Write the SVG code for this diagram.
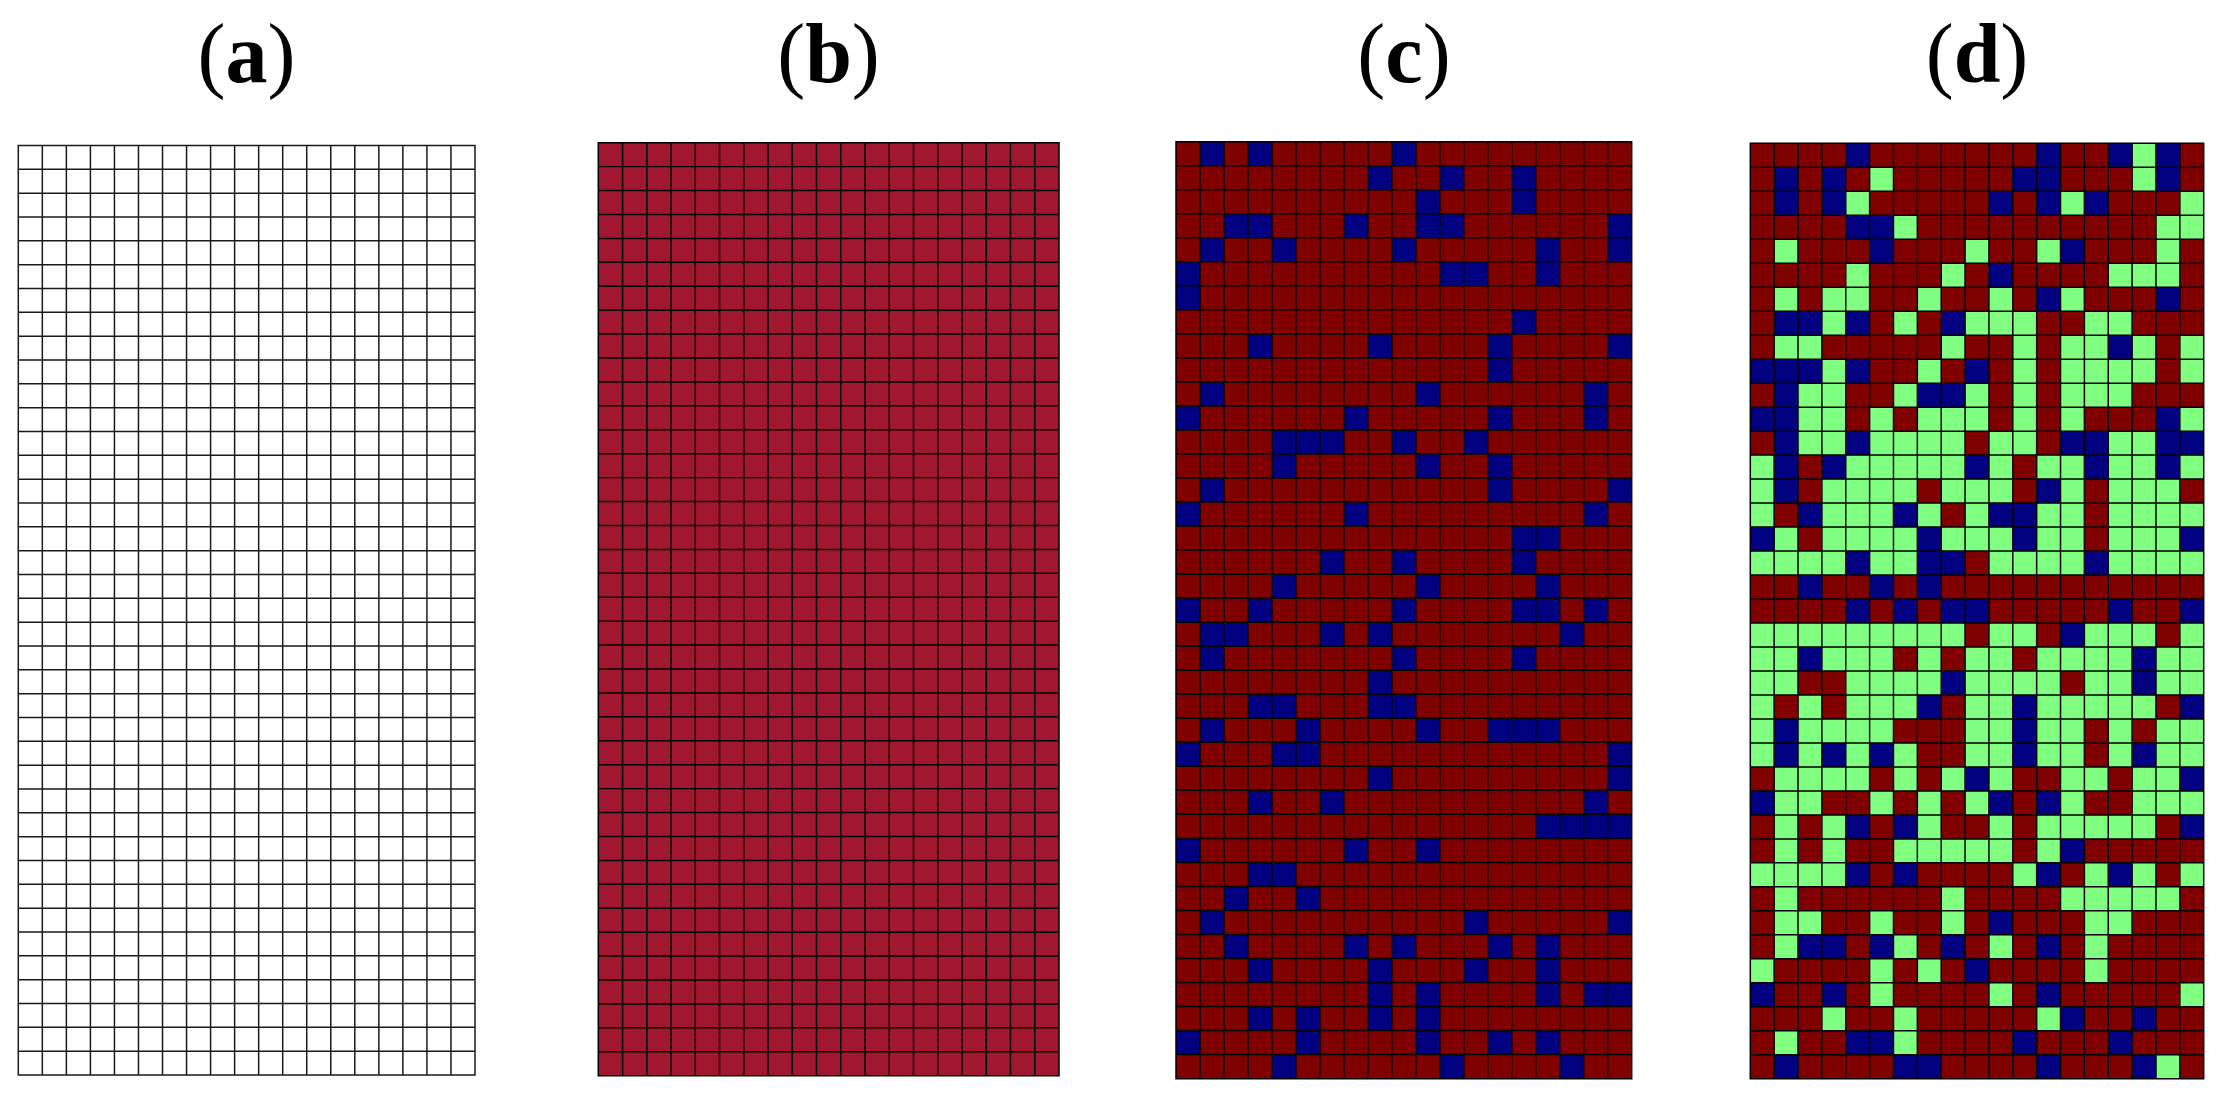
<svg xmlns="http://www.w3.org/2000/svg" xmlns:xlink="http://www.w3.org/1999/xlink" width="2219" height="1095" viewBox="0 0 2219 1095">
<style>
.t{font-family:"Liberation Serif","Times New Roman",serif;font-size:84px;text-anchor:middle;fill:#000}
.r{fill:#800000}.b{fill:#000080}.g{fill:#80ff80}.w{fill:#fff}.cr{fill:#a0172f}
.grid{fill:none;stroke:#000;stroke-width:1.5;stroke-linecap:square;vector-effect:non-scaling-stroke}
.ga{stroke:#1a1a1a}
</style>
<defs>
<path id="grid" d="M0 0V936M24 0V936M48 0V936M72 0V936M96 0V936M120 0V936M144 0V936M168 0V936M192 0V936M216 0V936M240 0V936M264 0V936M288 0V936M312 0V936M336 0V936M360 0V936M384 0V936M408 0V936M432 0V936M456 0V936M0 0H456M0 24H456M0 48H456M0 72H456M0 96H456M0 120H456M0 144H456M0 168H456M0 192H456M0 216H456M0 240H456M0 264H456M0 288H456M0 312H456M0 336H456M0 360H456M0 384H456M0 408H456M0 432H456M0 456H456M0 480H456M0 504H456M0 528H456M0 552H456M0 576H456M0 600H456M0 624H456M0 648H456M0 672H456M0 696H456M0 720H456M0 744H456M0 768H456M0 792H456M0 816H456M0 840H456M0 864H456M0 888H456M0 912H456M0 936H456"/>
</defs>
<rect width="2219" height="1095" fill="#fff"/>

<g id="label-a"><text class="t" x="246.5" y="82">(<tspan font-weight="bold">a</tspan>)</text></g>
<g id="label-b"><text class="t" x="828.5" y="82">(<tspan font-weight="bold">b</tspan>)</text></g>
<g id="label-c"><text class="t" x="1404" y="82">(<tspan font-weight="bold">c</tspan>)</text></g>
<g id="label-d"><text class="t" x="1977" y="82">(<tspan font-weight="bold">d</tspan>)</text></g>

<g id="panel-a" transform="translate(18.3,145.5) scale(1.0015,0.99306)">
<rect class="w" width="456" height="936"/>
<use href="#grid" class="grid ga"/>
</g>

<g id="panel-b" transform="translate(598.3,142.7) scale(1.0103,0.9968)">
<rect class="cr" width="456" height="936"/>
<use href="#grid" class="grid"/>
</g>

<g id="panel-c" transform="translate(1176,141.7) scale(0.9993,1.001)">
<rect class="r" width="456" height="936"/>
<g class="b">
<rect x="24" y="0" width="24" height="24"/><rect x="72" y="0" width="24" height="24"/><rect x="216" y="0" width="24" height="24"/>
<rect x="192" y="24" width="24" height="24"/><rect x="264" y="24" width="24" height="24"/><rect x="336" y="24" width="24" height="24"/>
<rect x="240" y="48" width="24" height="24"/><rect x="336" y="48" width="24" height="24"/>
<rect x="48" y="72" width="48" height="24"/><rect x="168" y="72" width="24" height="24"/><rect x="240" y="72" width="48" height="24"/><rect x="432" y="72" width="24" height="24"/>
<rect x="24" y="96" width="24" height="24"/><rect x="96" y="96" width="24" height="24"/><rect x="216" y="96" width="24" height="24"/><rect x="360" y="96" width="24" height="24"/><rect x="432" y="96" width="24" height="24"/>
<rect x="0" y="120" width="24" height="24"/><rect x="264" y="120" width="48" height="24"/><rect x="360" y="120" width="24" height="24"/>
<rect x="0" y="144" width="24" height="24"/>
<rect x="336" y="168" width="24" height="24"/>
<rect x="72" y="192" width="24" height="24"/><rect x="192" y="192" width="24" height="24"/><rect x="312" y="192" width="24" height="24"/><rect x="432" y="192" width="24" height="24"/>
<rect x="312" y="216" width="24" height="24"/>
<rect x="24" y="240" width="24" height="24"/><rect x="240" y="240" width="24" height="24"/><rect x="408" y="240" width="24" height="24"/>
<rect x="0" y="264" width="24" height="24"/><rect x="168" y="264" width="24" height="24"/><rect x="312" y="264" width="24" height="24"/><rect x="408" y="264" width="24" height="24"/>
<rect x="96" y="288" width="72" height="24"/><rect x="216" y="288" width="24" height="24"/><rect x="288" y="288" width="24" height="24"/>
<rect x="96" y="312" width="24" height="24"/><rect x="240" y="312" width="24" height="24"/><rect x="312" y="312" width="24" height="24"/>
<rect x="24" y="336" width="24" height="24"/><rect x="312" y="336" width="24" height="24"/><rect x="432" y="336" width="24" height="24"/>
<rect x="0" y="360" width="24" height="24"/><rect x="168" y="360" width="24" height="24"/><rect x="408" y="360" width="24" height="24"/>
<rect x="336" y="384" width="48" height="24"/>
<rect x="144" y="408" width="24" height="24"/><rect x="216" y="408" width="24" height="24"/><rect x="336" y="408" width="24" height="24"/>
<rect x="96" y="432" width="24" height="24"/><rect x="240" y="432" width="24" height="24"/><rect x="360" y="432" width="24" height="24"/>
<rect x="0" y="456" width="24" height="24"/><rect x="72" y="456" width="24" height="24"/><rect x="216" y="456" width="24" height="24"/><rect x="336" y="456" width="48" height="24"/><rect x="408" y="456" width="24" height="24"/>
<rect x="24" y="480" width="48" height="24"/><rect x="144" y="480" width="24" height="24"/><rect x="192" y="480" width="24" height="24"/><rect x="384" y="480" width="24" height="24"/>
<rect x="24" y="504" width="24" height="24"/><rect x="216" y="504" width="24" height="24"/><rect x="336" y="504" width="24" height="24"/>
<rect x="192" y="528" width="24" height="24"/>
<rect x="72" y="552" width="48" height="24"/><rect x="192" y="552" width="48" height="24"/>
<rect x="24" y="576" width="24" height="24"/><rect x="120" y="576" width="24" height="24"/><rect x="240" y="576" width="24" height="24"/><rect x="312" y="576" width="72" height="24"/>
<rect x="0" y="600" width="24" height="24"/><rect x="96" y="600" width="48" height="24"/><rect x="432" y="600" width="24" height="24"/>
<rect x="192" y="624" width="24" height="24"/><rect x="432" y="624" width="24" height="24"/>
<rect x="72" y="648" width="24" height="24"/><rect x="144" y="648" width="24" height="24"/><rect x="408" y="648" width="24" height="24"/>
<rect x="360" y="672" width="96" height="24"/>
<rect x="0" y="696" width="24" height="24"/><rect x="168" y="696" width="24" height="24"/><rect x="240" y="696" width="24" height="24"/>
<rect x="72" y="720" width="48" height="24"/>
<rect x="48" y="744" width="24" height="24"/><rect x="120" y="744" width="24" height="24"/>
<rect x="24" y="768" width="24" height="24"/><rect x="288" y="768" width="24" height="24"/><rect x="432" y="768" width="24" height="24"/>
<rect x="48" y="792" width="24" height="24"/><rect x="168" y="792" width="24" height="24"/><rect x="216" y="792" width="24" height="24"/><rect x="312" y="792" width="24" height="24"/><rect x="360" y="792" width="24" height="24"/>
<rect x="72" y="816" width="24" height="24"/><rect x="192" y="816" width="24" height="24"/><rect x="288" y="816" width="24" height="24"/><rect x="360" y="816" width="24" height="24"/>
<rect x="192" y="840" width="24" height="24"/><rect x="240" y="840" width="24" height="24"/><rect x="360" y="840" width="24" height="24"/><rect x="408" y="840" width="48" height="24"/>
<rect x="72" y="864" width="24" height="24"/><rect x="120" y="864" width="24" height="24"/><rect x="192" y="864" width="24" height="24"/><rect x="240" y="864" width="24" height="24"/>
<rect x="0" y="888" width="24" height="24"/><rect x="120" y="888" width="24" height="24"/><rect x="240" y="888" width="24" height="24"/><rect x="312" y="888" width="24" height="24"/><rect x="360" y="888" width="24" height="24"/>
<rect x="96" y="912" width="24" height="24"/><rect x="264" y="912" width="24" height="24"/><rect x="384" y="912" width="24" height="24"/>
</g>
<use href="#grid" class="grid"/>
</g>

<g id="panel-d" transform="translate(1750.3,143.3) scale(0.9943,0.9994)">
<rect class="r" width="456" height="936"/>
<g class="b">
<rect x="96" y="0" width="24" height="24"/><rect x="288" y="0" width="24" height="24"/><rect x="360" y="0" width="24" height="24"/><rect x="408" y="0" width="24" height="24"/>
<rect x="24" y="24" width="24" height="24"/><rect x="72" y="24" width="24" height="24"/><rect x="264" y="24" width="48" height="24"/><rect x="408" y="24" width="24" height="24"/>
<rect x="24" y="48" width="24" height="24"/><rect x="72" y="48" width="24" height="24"/><rect x="240" y="48" width="24" height="24"/><rect x="288" y="48" width="24" height="24"/><rect x="336" y="48" width="24" height="24"/>
<rect x="96" y="72" width="48" height="24"/>
<rect x="120" y="96" width="24" height="24"/><rect x="312" y="96" width="24" height="24"/>
<rect x="240" y="120" width="24" height="24"/>
<rect x="288" y="144" width="24" height="24"/><rect x="408" y="144" width="24" height="24"/>
<rect x="24" y="168" width="48" height="24"/><rect x="96" y="168" width="24" height="24"/><rect x="192" y="168" width="24" height="24"/>
<rect x="360" y="192" width="24" height="24"/>
<rect x="0" y="216" width="72" height="24"/><rect x="96" y="216" width="24" height="24"/><rect x="216" y="216" width="24" height="24"/>
<rect x="24" y="240" width="24" height="24"/><rect x="168" y="240" width="48" height="24"/>
<rect x="0" y="264" width="48" height="24"/><rect x="408" y="264" width="24" height="24"/>
<rect x="24" y="288" width="24" height="24"/><rect x="96" y="288" width="24" height="24"/><rect x="312" y="288" width="48" height="24"/><rect x="408" y="288" width="48" height="24"/>
<rect x="24" y="312" width="24" height="24"/><rect x="72" y="312" width="24" height="24"/><rect x="216" y="312" width="24" height="24"/><rect x="336" y="312" width="24" height="24"/><rect x="408" y="312" width="24" height="24"/>
<rect x="24" y="336" width="24" height="24"/><rect x="288" y="336" width="24" height="24"/>
<rect x="48" y="360" width="24" height="24"/><rect x="144" y="360" width="24" height="24"/><rect x="240" y="360" width="48" height="24"/>
<rect x="0" y="384" width="24" height="24"/><rect x="168" y="384" width="24" height="24"/><rect x="264" y="384" width="24" height="24"/><rect x="432" y="384" width="24" height="24"/>
<rect x="96" y="408" width="24" height="24"/><rect x="168" y="408" width="48" height="24"/><rect x="336" y="408" width="24" height="24"/>
<rect x="48" y="432" width="24" height="24"/><rect x="120" y="432" width="24" height="24"/><rect x="168" y="432" width="24" height="24"/>
<rect x="96" y="456" width="24" height="24"/><rect x="144" y="456" width="24" height="24"/><rect x="192" y="456" width="48" height="24"/><rect x="360" y="456" width="24" height="24"/><rect x="432" y="456" width="24" height="24"/>
<rect x="312" y="480" width="24" height="24"/>
<rect x="48" y="504" width="24" height="24"/><rect x="384" y="504" width="24" height="24"/>
<rect x="192" y="528" width="24" height="24"/><rect x="384" y="528" width="24" height="24"/>
<rect x="168" y="552" width="24" height="24"/><rect x="264" y="552" width="24" height="24"/><rect x="432" y="552" width="24" height="24"/>
<rect x="24" y="576" width="24" height="24"/><rect x="264" y="576" width="24" height="24"/>
<rect x="24" y="600" width="24" height="24"/><rect x="72" y="600" width="24" height="24"/><rect x="120" y="600" width="24" height="24"/><rect x="264" y="600" width="24" height="24"/><rect x="384" y="600" width="24" height="24"/>
<rect x="216" y="624" width="24" height="24"/><rect x="432" y="624" width="24" height="24"/>
<rect x="0" y="648" width="24" height="24"/><rect x="240" y="648" width="24" height="24"/><rect x="288" y="648" width="24" height="24"/>
<rect x="96" y="672" width="24" height="24"/><rect x="144" y="672" width="24" height="24"/><rect x="432" y="672" width="24" height="24"/>
<rect x="312" y="696" width="24" height="24"/>
<rect x="96" y="720" width="24" height="24"/><rect x="144" y="720" width="24" height="24"/><rect x="288" y="720" width="24" height="24"/><rect x="360" y="720" width="24" height="24"/>
<rect x="240" y="768" width="24" height="24"/>
<rect x="48" y="792" width="48" height="24"/><rect x="120" y="792" width="24" height="24"/><rect x="192" y="792" width="24" height="24"/><rect x="288" y="792" width="24" height="24"/>
<rect x="216" y="816" width="24" height="24"/>
<rect x="0" y="840" width="24" height="24"/><rect x="72" y="840" width="24" height="24"/><rect x="288" y="840" width="24" height="24"/>
<rect x="312" y="864" width="24" height="24"/><rect x="384" y="864" width="24" height="24"/>
<rect x="96" y="888" width="48" height="24"/><rect x="264" y="888" width="24" height="24"/><rect x="360" y="888" width="24" height="24"/>
<rect x="24" y="912" width="24" height="24"/><rect x="144" y="912" width="48" height="24"/><rect x="288" y="912" width="24" height="24"/><rect x="384" y="912" width="24" height="24"/>
</g>
<g class="g">
<rect x="384" y="0" width="24" height="24"/>
<rect x="120" y="24" width="24" height="24"/><rect x="384" y="24" width="24" height="24"/>
<rect x="96" y="48" width="24" height="24"/><rect x="312" y="48" width="24" height="24"/><rect x="432" y="48" width="24" height="24"/>
<rect x="144" y="72" width="24" height="24"/><rect x="408" y="72" width="48" height="24"/>
<rect x="24" y="96" width="24" height="24"/><rect x="216" y="96" width="24" height="24"/><rect x="288" y="96" width="24" height="24"/><rect x="408" y="96" width="24" height="24"/>
<rect x="96" y="120" width="24" height="24"/><rect x="192" y="120" width="24" height="24"/><rect x="360" y="120" width="72" height="24"/>
<rect x="24" y="144" width="24" height="24"/><rect x="72" y="144" width="48" height="24"/><rect x="168" y="144" width="24" height="24"/><rect x="240" y="144" width="24" height="24"/><rect x="312" y="144" width="24" height="24"/>
<rect x="72" y="168" width="24" height="24"/><rect x="144" y="168" width="24" height="24"/><rect x="216" y="168" width="72" height="24"/><rect x="336" y="168" width="48" height="24"/>
<rect x="24" y="192" width="48" height="24"/><rect x="192" y="192" width="24" height="24"/><rect x="264" y="192" width="24" height="24"/><rect x="312" y="192" width="48" height="24"/><rect x="384" y="192" width="24" height="24"/><rect x="432" y="192" width="24" height="24"/>
<rect x="72" y="216" width="24" height="24"/><rect x="168" y="216" width="24" height="24"/><rect x="264" y="216" width="24" height="24"/><rect x="312" y="216" width="96" height="24"/><rect x="432" y="216" width="24" height="24"/>
<rect x="48" y="240" width="48" height="24"/><rect x="144" y="240" width="24" height="24"/><rect x="216" y="240" width="24" height="24"/><rect x="264" y="240" width="24" height="24"/><rect x="312" y="240" width="72" height="24"/>
<rect x="48" y="264" width="48" height="24"/><rect x="120" y="264" width="24" height="24"/><rect x="168" y="264" width="72" height="24"/><rect x="264" y="264" width="24" height="24"/><rect x="312" y="264" width="24" height="24"/><rect x="432" y="264" width="24" height="24"/>
<rect x="48" y="288" width="48" height="24"/><rect x="120" y="288" width="96" height="24"/><rect x="240" y="288" width="48" height="24"/><rect x="360" y="288" width="48" height="24"/>
<rect x="0" y="312" width="24" height="24"/><rect x="96" y="312" width="120" height="24"/><rect x="240" y="312" width="24" height="24"/><rect x="288" y="312" width="48" height="24"/><rect x="360" y="312" width="48" height="24"/><rect x="432" y="312" width="24" height="24"/>
<rect x="0" y="336" width="24" height="24"/><rect x="72" y="336" width="96" height="24"/><rect x="192" y="336" width="72" height="24"/><rect x="312" y="336" width="24" height="24"/><rect x="360" y="336" width="72" height="24"/>
<rect x="0" y="360" width="24" height="24"/><rect x="72" y="360" width="72" height="24"/><rect x="168" y="360" width="24" height="24"/><rect x="216" y="360" width="24" height="24"/><rect x="288" y="360" width="48" height="24"/><rect x="360" y="360" width="96" height="24"/>
<rect x="24" y="384" width="24" height="24"/><rect x="72" y="384" width="96" height="24"/><rect x="192" y="384" width="72" height="24"/><rect x="288" y="384" width="48" height="24"/><rect x="360" y="384" width="72" height="24"/>
<rect x="0" y="408" width="96" height="24"/><rect x="120" y="408" width="48" height="24"/><rect x="240" y="408" width="96" height="24"/><rect x="360" y="408" width="96" height="24"/>
<rect x="0" y="480" width="216" height="24"/><rect x="240" y="480" width="48" height="24"/><rect x="336" y="480" width="72" height="24"/><rect x="432" y="480" width="24" height="24"/>
<rect x="0" y="504" width="48" height="24"/><rect x="72" y="504" width="72" height="24"/><rect x="168" y="504" width="24" height="24"/><rect x="216" y="504" width="48" height="24"/><rect x="288" y="504" width="96" height="24"/><rect x="408" y="504" width="48" height="24"/>
<rect x="0" y="528" width="48" height="24"/><rect x="96" y="528" width="96" height="24"/><rect x="216" y="528" width="96" height="24"/><rect x="336" y="528" width="48" height="24"/><rect x="408" y="528" width="48" height="24"/>
<rect x="0" y="552" width="24" height="24"/><rect x="48" y="552" width="24" height="24"/><rect x="96" y="552" width="72" height="24"/><rect x="216" y="552" width="48" height="24"/><rect x="288" y="552" width="120" height="24"/>
<rect x="0" y="576" width="24" height="24"/><rect x="48" y="576" width="96" height="24"/><rect x="216" y="576" width="48" height="24"/><rect x="288" y="576" width="48" height="24"/><rect x="360" y="576" width="24" height="24"/><rect x="408" y="576" width="48" height="24"/>
<rect x="0" y="600" width="24" height="24"/><rect x="48" y="600" width="24" height="24"/><rect x="96" y="600" width="24" height="24"/><rect x="144" y="600" width="24" height="24"/><rect x="216" y="600" width="48" height="24"/><rect x="288" y="600" width="48" height="24"/><rect x="360" y="600" width="24" height="24"/><rect x="408" y="600" width="48" height="24"/>
<rect x="24" y="624" width="96" height="24"/><rect x="144" y="624" width="24" height="24"/><rect x="192" y="624" width="24" height="24"/><rect x="240" y="624" width="24" height="24"/><rect x="312" y="624" width="48" height="24"/><rect x="384" y="624" width="48" height="24"/>
<rect x="24" y="648" width="48" height="24"/><rect x="120" y="648" width="24" height="24"/><rect x="168" y="648" width="24" height="24"/><rect x="216" y="648" width="24" height="24"/><rect x="312" y="648" width="24" height="24"/><rect x="384" y="648" width="72" height="24"/>
<rect x="24" y="672" width="24" height="24"/><rect x="72" y="672" width="24" height="24"/><rect x="168" y="672" width="24" height="24"/><rect x="240" y="672" width="24" height="24"/><rect x="288" y="672" width="120" height="24"/>
<rect x="24" y="696" width="24" height="24"/><rect x="72" y="696" width="24" height="24"/><rect x="144" y="696" width="120" height="24"/><rect x="288" y="696" width="24" height="24"/>
<rect x="0" y="720" width="96" height="24"/><rect x="264" y="720" width="24" height="24"/><rect x="336" y="720" width="24" height="24"/><rect x="384" y="720" width="24" height="24"/><rect x="432" y="720" width="24" height="24"/>
<rect x="24" y="744" width="24" height="24"/><rect x="192" y="744" width="24" height="24"/><rect x="312" y="744" width="120" height="24"/>
<rect x="24" y="768" width="48" height="24"/><rect x="120" y="768" width="24" height="24"/><rect x="192" y="768" width="24" height="24"/><rect x="336" y="768" width="48" height="24"/>
<rect x="24" y="792" width="24" height="24"/><rect x="144" y="792" width="24" height="24"/><rect x="240" y="792" width="24" height="24"/><rect x="336" y="792" width="24" height="24"/>
<rect x="0" y="816" width="24" height="24"/><rect x="120" y="816" width="24" height="24"/><rect x="168" y="816" width="24" height="24"/><rect x="336" y="816" width="24" height="24"/>
<rect x="120" y="840" width="24" height="24"/><rect x="240" y="840" width="24" height="24"/><rect x="432" y="840" width="24" height="24"/>
<rect x="72" y="864" width="24" height="24"/><rect x="144" y="864" width="24" height="24"/><rect x="288" y="864" width="24" height="24"/>
<rect x="24" y="888" width="24" height="24"/><rect x="144" y="888" width="24" height="24"/>
<rect x="408" y="912" width="24" height="24"/>
</g>
<use href="#grid" class="grid"/>
</g>
</svg>
